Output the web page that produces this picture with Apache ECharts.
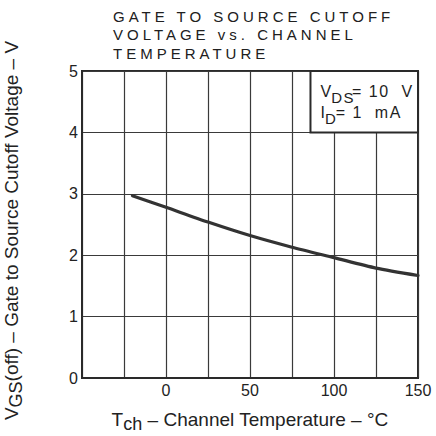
<!DOCTYPE html>
<html><head><meta charset="utf-8">
<script src="https://cdn.jsdelivr.net/npm/echarts@6/dist/echarts.min.js"></script>
<style>
html,body{margin:0;padding:0;background:#fff}
#c{width:436px;height:436px}
#c text[fill="#202020"]{letter-spacing:4px}
#c text[fill="#1e1e1e"]{letter-spacing:1.5px}
</style></head><body><div id="c"></div>
<script>
// Data
const temps = [-20, 0, 25, 50, 75, 100, 125, 150];
const vgsOff = [2.97, 2.78, 2.54, 2.32, 2.13, 1.96, 1.79, 1.67];
const xTickLabels = [0, 50, 100, 150];
const yTickLabels = [0, 1, 2, 3, 4, 5];
const titleLines = ['GATE TO SOURCE CUTOFF', 'VOLTAGE vs. CHANNEL', 'TEMPERATURE'];
const conditionBoxX = [86, 150];
const conditionBoxY = [4, 5];

const FONT = 'Liberation Sans, Arial, sans-serif';
const TXT = '#222';
const GRIDC = '#3a3a3a';

const chart = echarts.init(document.getElementById('c'), null, {renderer: 'svg'});
chart.setOption({
  animation: false,
  backgroundColor: '#fff',
  title: {
    text: titleLines.join('\n'),
    left: 113, top: 7, padding: 0,
    textStyle: {fontFamily: FONT, fontSize: 15, fontWeight: 'normal', color: '#202020', lineHeight: 18.5}
  },
  grid: {left: 82, right: 18, top: 71, bottom: 58, show: true, borderColor: '#2a2a2a', borderWidth: 2,
         backgroundColor: 'transparent', containLabel: false, outerBoundsMode: 'none'},
  xAxis: {
    type: 'value', min: -50, max: 150, interval: 25,
    name: '{m|T}{s|ch}{m| – Channel Temperature – °C}',
    nameLocation: 'middle', nameGap: 30,
    nameTextStyle: {fontFamily: FONT, color: TXT, rich: {
      m: {fontFamily: FONT, fontSize: 19, color: TXT, lineHeight: 22},
      s: {fontFamily: FONT, fontSize: 18, color: TXT, lineHeight: 22, padding: [10, 0, 0, 0]}
    }},
    axisLine: {show: true, onZero: false, lineStyle: {color: '#2a2a2a', width: 2}},
    axisTick: {show: false},
    splitLine: {show: true, lineStyle: {color: GRIDC, width: 1.2}},
    axisLabel: {
      margin: 4, fontFamily: FONT, fontSize: 16, color: TXT,
      formatter: v => xTickLabels.includes(v) ? String(v) : ''
    }
  },
  yAxis: {
    type: 'value', min: 0, max: 5, interval: 1,
    name: '{m|V}{s|GS}{m|(off) – Gate to Source Cutoff Voltage – V}',
    nameLocation: 'middle', nameGap: 60, nameRotate: 90,
    nameTextStyle: {fontFamily: FONT, color: TXT, padding: [0, 0, 0, -12], rich: {
      m: {fontFamily: FONT, fontSize: 19, color: TXT, lineHeight: 22},
      s: {fontFamily: FONT, fontSize: 18, color: TXT, lineHeight: 22, padding: [10, 0, 0, 0]}
    }},
    axisLine: {show: true, onZero: false, lineStyle: {color: '#2a2a2a', width: 2}},
    axisTick: {show: false},
    splitLine: {show: true, lineStyle: {color: GRIDC, width: 1.2}},
    axisLabel: {
      margin: 4, fontFamily: FONT, fontSize: 16, color: TXT,
      formatter: v => yTickLabels.includes(v) ? String(v) : ''
    }
  },
  series: [{
    type: 'line',
    data: temps.map((t, i) => [t, vgsOff[i]]),
    smooth: 0.25,
    showSymbol: false, symbol: 'none',
    lineStyle: {color: '#333', width: 3.2, cap: 'round'},
    markArea: {
      silent: true,
      itemStyle: {color: '#fff', borderColor: '#2a2a2a', borderWidth: 2, opacity: 1},
      label: {
        show: true, position: [11, 11],
        formatter: '{m|V}{s|DS}{m|= 10  V}\n{m|I}{s|D}{m|= 1  mA}',
        color: '#1e1e1e', fontFamily: FONT,
        rich: {
          m: {fontFamily: FONT, fontSize: 16, color: '#1e1e1e', lineHeight: 21},
          s: {fontFamily: FONT, fontSize: 15, color: '#1e1e1e', lineHeight: 21, padding: [12, 0, 0, 0]}
        }
      },
      data: [[{xAxis: conditionBoxX[0], yAxis: conditionBoxY[0]}, {xAxis: conditionBoxX[1], yAxis: conditionBoxY[1]}]]
    }
  }]
});
</script></body></html>
